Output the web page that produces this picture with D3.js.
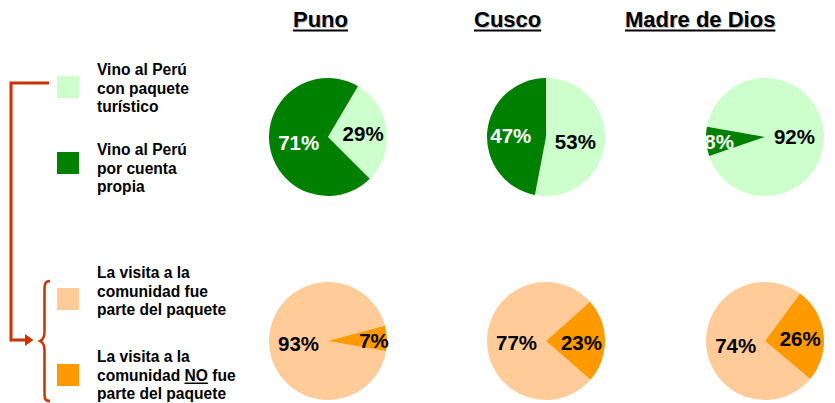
<!DOCTYPE html>
<html>
<head>
<meta charset="utf-8">
<script src="https://cdn.jsdelivr.net/npm/d3@7"></script>
<style>
  body { margin: 0; background: #fff; }
  svg { display: block; font-family: "Liberation Sans", Arial, sans-serif; font-weight: bold; }
</style>
</head>
<body>
<svg id="chart"></svg>
<script>
// values
const regions = ["Puno", "Cusco", "Madre de Dios"];
const conPaquete = [29, 53, 92];
const cuentaPropia = [71, 47, 8];
const visitaEnPaquete = [93, 77, 74];
const visitaFueraPaquete = [7, 23, 26];

const legendTop = [
  { lines: ["Vino al Perú", "con paquete", "turístico"], color: "#ccffcc" },
  { lines: ["Vino al Perú", "por cuenta", "propia"], color: "#008000" }
];
const legendBottom = [
  { lines: ["La visita a la", "comunidad fue", "parte del paquete"], color: "#ffcc99" },
  { lines: ["La visita a la", "comunidad |NO| fue", "parte del paquete"], color: "#ff9900" }
];

// layout
const width = 835;
const height = 403;
const radius = 59;
const pieX = [328, 546, 765];
const rowY = [137, 341];
const titleX = [293, 474, 625];
const topStart = [30.5, 0, 280];     // angle (deg) where first slice begins
const bottomStart = [100, 131, 130];
const accent = "#cc3300";

const svg = d3.select("#chart")
  .attr("width", width)
  .attr("height", height);

// titles
regions.forEach((name, i) => {
  const g = svg.append("g");
  g.append("text")
    .attr("x", titleX[i] + 1)
    .attr("y", 28)
    .attr("font-size", 22)
    .attr("fill", "#bbb")
    .text(name);
  const t = g.append("text")
    .attr("x", titleX[i])
    .attr("y", 27)
    .attr("font-size", 22)
    .attr("fill", "#000")
    .text(name);
  const w = t.node().getComputedTextLength();
  g.append("rect")
    .attr("x", titleX[i])
    .attr("y", 29.5)
    .attr("width", w)
    .attr("height", 2)
    .attr("fill", "#000");
});

const arc = d3.arc().innerRadius(0).outerRadius(radius);

const drawPie = (values, colors, labelColors, cx, cy, startDeg) => {
  const start = startDeg * Math.PI / 180;
  const pie = d3.pie().sort(null).value((d) => d)
    .startAngle(start)
    .endAngle(start + 2 * Math.PI);
  const arcs = pie(values);
  const g = svg.append("g").attr("transform", `translate(${cx},${cy})`);
  g.selectAll("path")
    .data(arcs)
    .enter()
    .append("path")
    .attr("d", arc)
    .attr("fill", (d, i) => colors[i]);
  g.selectAll("text")
    .data(arcs)
    .enter()
    .append("text")
    .attr("transform", (d) => {
      const share = d.value / d3.sum(values);
      const r = share < 0.1 ? radius * 0.78 : share < 0.5 ? radius * 0.6 : radius * 0.5;
      const [x, y] = d3.arc().innerRadius(r).outerRadius(r).centroid(d);
      return `translate(${x},${y + 1.5})`;
    })
    .attr("text-anchor", "middle")
    .attr("dy", "0.36em")
    .attr("font-size", 20.5)
    .attr("fill", (d, i) => labelColors[i])
    .text((d) => d.value + "%");
};

regions.forEach((name, i) => {
  drawPie([conPaquete[i], cuentaPropia[i]], ["#ccffcc", "#008000"], ["#000", "#fff"],
    pieX[i], rowY[0], topStart[i]);
  drawPie([visitaEnPaquete[i], visitaFueraPaquete[i]], ["#ffcc99", "#ff9900"], ["#000", "#000"],
    pieX[i], rowY[1], bottomStart[i]);
});

// legend
const drawLegend = (items, squareY, textY) => {
  items.forEach((item, k) => {
    svg.append("rect")
      .attr("x", 57)
      .attr("y", squareY[k])
      .attr("width", 22)
      .attr("height", 22)
      .attr("fill", item.color);
    item.lines.forEach((line, j) => {
      const t = svg.append("text")
        .attr("x", 97)
        .attr("y", textY[k] + j * 18.5)
        .attr("font-size", 15.6)
        .attr("fill", "#000");
      const parts = line.split("|");
      parts.forEach((p, n) => {
        const span = t.append("tspan").text(p);
        if (n === 1) {
          const bb = span.node().getBBox();
          svg.append("rect")
            .attr("x", bb.x)
            .attr("y", textY[k] + j * 18.5 + 2)
            .attr("width", bb.width)
            .attr("height", 1.5)
            .attr("fill", "#000");
        }
      });
    });
  });
};
drawLegend(legendTop, [76, 152], [75, 155]);
drawLegend(legendBottom, [288, 364], [278, 362]);

// connector from the top legend to the bottom one
svg.append("path")
  .attr("d", "M49,83 H11 V340 H26")
  .attr("fill", "none")
  .attr("stroke", accent)
  .attr("stroke-width", 3);
svg.append("path")
  .attr("d", "M25,334 L33.5,340 L25,346 Z")
  .attr("fill", accent);

// curly brace
svg.append("path")
  .attr("d", "M50,281 C45,281 44.5,284 44.5,290 V332 C44.5,338 42,340 40,341 C42,342 44.5,344 44.5,350 V393 C44.5,399 45,401 50,401")
  .attr("fill", "none")
  .attr("stroke", accent)
  .attr("stroke-width", 2.5);
</script>
</body>
</html>
